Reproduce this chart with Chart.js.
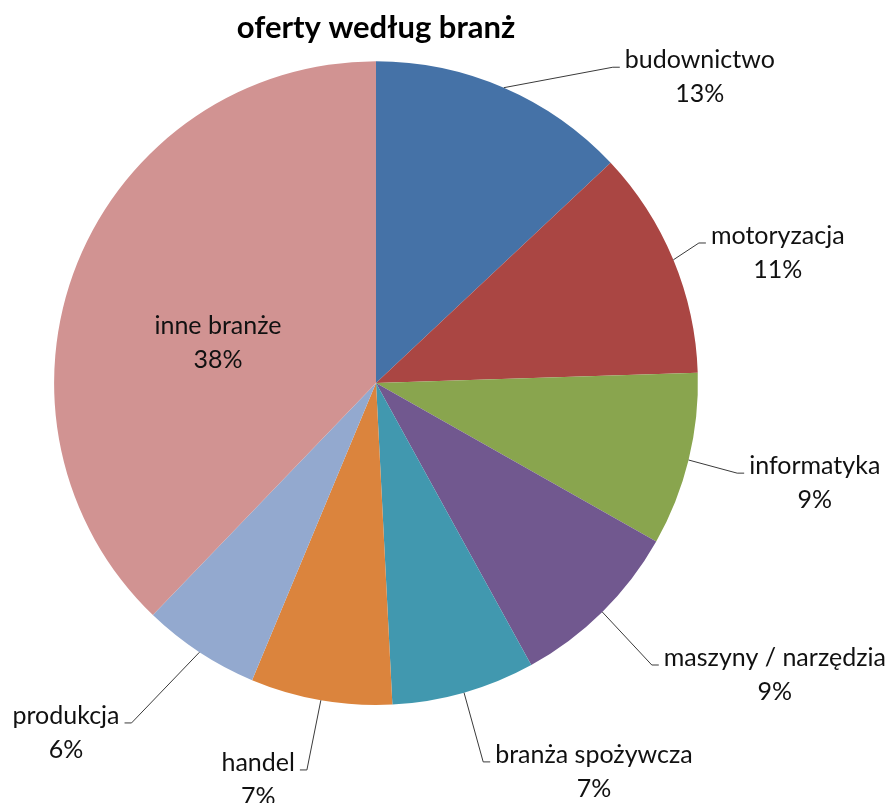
<!DOCTYPE html>
<html lang="pl">
<head>
<meta charset="utf-8">
<title>oferty według branż</title>
<script src="https://cdn.jsdelivr.net/npm/chart.js@4.4.0/dist/chart.umd.min.js"></script>
<style>
  html, body { margin: 0; padding: 0; background: #fff; }
  #wrap { width: 891px; height: 803px; }
</style>
</head>
<body>
<div id="wrap"><canvas id="pieChart" width="891" height="803"></canvas></div>
<script>
// Offers by industry (share of all offers, %)
const categories = ['budownictwo', 'motoryzacja', 'informatyka', 'maszyny / narzędzia',
    'branża spożywcza', 'handel', 'produkcja', 'inne branże'];
const shares = [13.0, 11.49, 8.7, 8.8, 7.2, 7.1, 5.9, 37.81];
const sliceColors = ['#4572A7', '#AA4643', '#89A54E', '#71588F', '#4198AF', '#DB843D', '#93A9CF', '#D19392'];

// where each label sits, relative to pie centre, in units of the radius
const labelSpots = [
    [1.006, -1.003], [1.248, -0.457], [1.363, 0.258], [1.239, 0.854],
    [0.677, 1.155], [-0.366, 1.180], [-0.963, 1.034], [-0.491, -0.177]
];
const insideLabel = [false, false, false, false, false, false, false, true];

const labelFont = '25px Lato, "Open Sans", sans-serif';

// draws Excel-style labels with leader lines
const pieLabels = {
    id: 'pieLabels',
    afterDraw(chart) {
        const ctx = chart.ctx;
        const meta = chart.getDatasetMeta(0);
        const data = chart.data.datasets[0].data;
        const total = data.reduce((a, b) => a + b, 0);
        ctx.save();
        ctx.font = labelFont;
        ctx.textAlign = 'center';
        ctx.textBaseline = 'middle';
        meta.data.forEach((arc, i) => {
            const p = arc.getProps(['x', 'y', 'startAngle', 'endAngle', 'outerRadius'], true);
            const R = p.outerRadius;
            const mid = (p.startAngle + p.endAngle) / 2;
            const tx = p.x + labelSpots[i][0] * R;
            const ty = p.y + labelSpots[i][1] * R;
            const name = chart.data.labels[i];
            const pct = Math.round(data[i] / total * 100) + '%';

            if (!insideLabel[i]) {
                const w = ctx.measureText(name).width;
                const ax = p.x + Math.cos(mid) * R;
                const ay = p.y + Math.sin(mid) * R;
                const right = tx > ax;
                const endX = right ? tx - w / 2 - 5 : tx + w / 2 + 5;
                const elbowX = right ? endX - 7 : endX + 7;
                const ly = ty + 7;
                ctx.strokeStyle = '#3a3a3a';
                ctx.lineWidth = 1;
                ctx.beginPath();
                ctx.moveTo(ax, ay);
                ctx.lineTo(elbowX, ly);
                ctx.lineTo(endX, ly);
                ctx.stroke();
            }

            ctx.fillStyle = '#111';
            ctx.fillText(name, tx, ty);
            ctx.fillText(pct, tx, ty + 34);
        });
        ctx.restore();
    }
};

const ctx = document.getElementById('pieChart').getContext('2d');
const pieChart = new Chart(ctx, {
    type: 'pie',
    data: {
        labels: categories,
        datasets: [{
            data: shares,
            backgroundColor: sliceColors,
            borderWidth: 0
        }]
    },
    options: {
        responsive: false,
        animation: false,
        layout: {
            padding: { left: 54, right: 193, top: 0, bottom: 98 }
        },
        plugins: {
            legend: { display: false },
            tooltip: { enabled: false },
            title: {
                display: true,
                text: 'oferty według branż',
                color: '#000',
                font: { family: 'Lato, "Open Sans", sans-serif', size: 31, weight: 'bold' },
                padding: { top: 9, bottom: 15 }
            }
        }
    },
    plugins: [pieLabels]
});
</script>
</body>
</html>
